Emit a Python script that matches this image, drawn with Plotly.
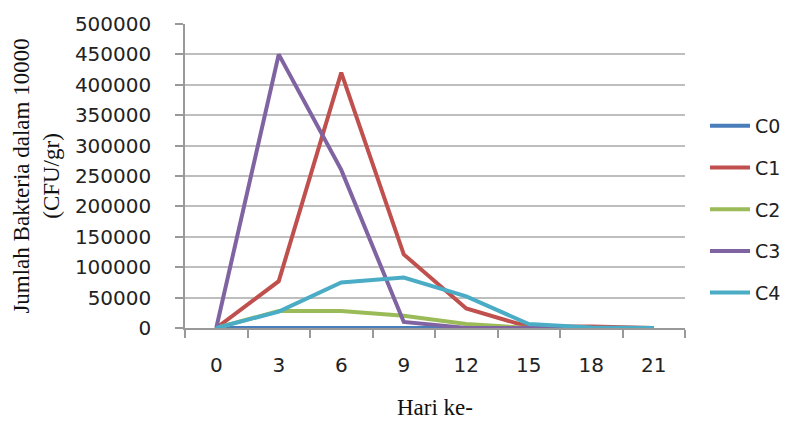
import plotly.graph_objects as go

days = [0, 3, 6, 9, 12, 15, 18, 21]
series_names = ["C0", "C1", "C2", "C3", "C4"]
c0 = [0, 0, 0, 0, 0, 0, 0, 0]
c1 = [0, 77000, 420000, 121000, 32000, 2000, 2500, 0]
c2 = [0, 28000, 28000, 20000, 6500, 0, 0, 0]
c3 = [0, 450000, 260000, 10000, 0, 0, 0, 0]
c4 = [0, 27000, 75000, 83000, 52000, 6500, 1000, 0]
colors = ["#4A7EBB", "#C0504D", "#9BBB59", "#8064A2", "#4BACC6"]
boundaries = [-1.5, 1.5, 4.5, 7.5, 10.5, 13.5, 16.5, 19.5, 22.5]
yticks = list(range(0, 500001, 50000))

fig = go.Figure()
for name, vals, col in zip(series_names, [c0, c1, c2, c3, c4], colors):
    fig.add_trace(go.Scatter(x=days, y=vals, name=name, mode="lines",
                             line=dict(color=col, width=4), legendgroup=name))

fig.update_layout(
    width=798, height=421,
    margin=dict(l=185, r=113, t=21, b=93),
    paper_bgcolor="white", plot_bgcolor="white",
    font=dict(family="DejaVu Sans", size=19, color="#222"),
    legend=dict(x=1.04, xanchor="left", y=0.39, yanchor="middle",
                font=dict(family="DejaVu Sans", size=19, color="#222"),
                tracegroupgap=14, itemwidth=40),
    showlegend=True,
)
fig.update_xaxes(
    range=[-1.5, 22.5], tickvals=days, ticktext=[str(d) for d in days],
    ticks="", showgrid=False, zeroline=False,
    showline=True, linecolor="#999999", linewidth=1.5,
    ticklabelstandoff=18,
    tickfont=dict(family="DejaVu Sans", size=20, color="#222"),
    minor=dict(tickvals=boundaries, ticks="outside", ticklen=8,
               tickcolor="#999999", tickwidth=1.5, showgrid=False),
)
fig.update_yaxes(
    range=[0, 500000], tickvals=yticks, ticktext=[str(v) for v in yticks],
    ticks="outside", ticklen=8, tickcolor="#999999", tickwidth=1.5,
    showgrid=True, gridcolor="#BEBEBE", gridwidth=1.5, zeroline=False,
    showline=True, linecolor="#999999", linewidth=1.5,
    ticklabelstandoff=20,
    tickfont=dict(family="DejaVu Sans", size=20, color="#222"),
)
fig.add_annotation(
    text="Jumlah Bakteria dalam 10000<br>(CFU/gr)", textangle=-90,
    xref="paper", yref="paper", x=-0.296, y=0.498,
    xanchor="center", yanchor="middle", showarrow=False,
    font=dict(family="Liberation Serif", size=23, color="#111"),
)
fig.add_annotation(
    text="Hari ke-", xref="paper", yref="paper", x=0.5, y=-0.26,
    xanchor="center", yanchor="middle", showarrow=False,
    font=dict(family="Liberation Serif", size=23, color="#111"),
)
fig.write_html("out.html")
